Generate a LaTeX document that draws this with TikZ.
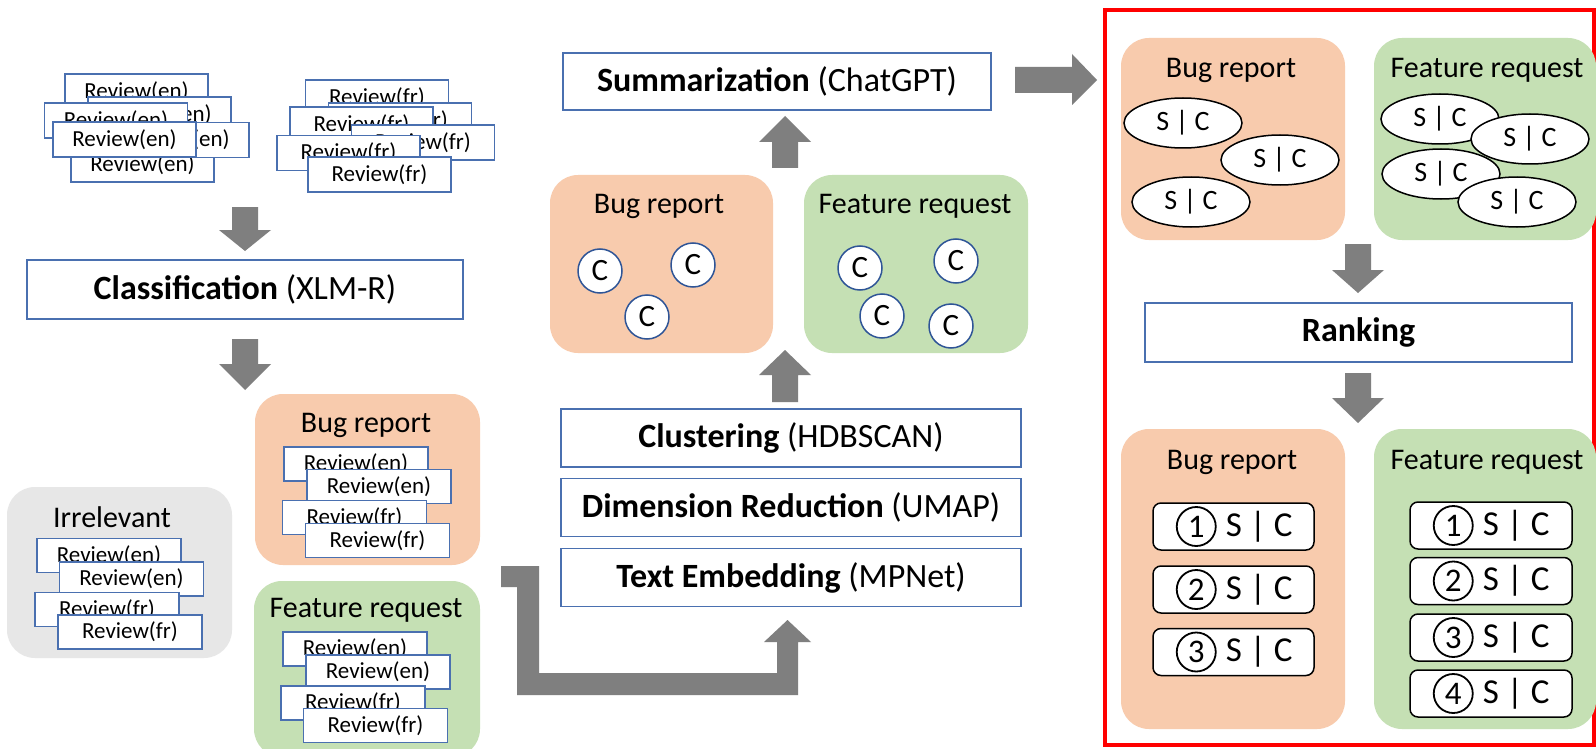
\documentclass[tikz,border=0pt]{standalone}
\usepackage{fontspec}
\setmainfont{Carlito}
\usetikzlibrary{shapes.geometric}
\definecolor{bblue}{HTML}{4A70B0}
\definecolor{cblue}{HTML}{2F5597}
\definecolor{orng}{HTML}{F8CBAD}
\definecolor{grn}{HTML}{C5E0B4}
\definecolor{gry}{HTML}{E7E7E7}
\definecolor{agray}{HTML}{7F7F7F}
\newcommand\myfs[1]{\fontsize{#1}{#1}\selectfont}
% vertical block arrow: x, start y, head base y, tip y
\newcommand\varrow[4]{\fill[agray] (#1-13,#2) -- (#1+13,#2) -- (#1+13,#3) -- (#1+26,#3) -- (#1,#4) -- (#1-26,#3) -- (#1-13,#3) -- cycle;}
\tikzset{
 rev/.style={draw=bblue, fill=white, line width=1.3pt, minimum width=143pt, minimum height=35pt, inner sep=0pt, font=\myfs{23}},
 proc/.style={draw=bblue, fill=white, line width=1.5pt, inner sep=0pt, font=\myfs{34}},
 grp/.style={rounded corners=28pt, inner sep=0pt, draw=none},
 ttl/.style={font=\myfs{30}, inner sep=0pt},
 cl/.style={circle, draw=cblue, fill=white, line width=1.5pt, minimum size=44pt, inner sep=0pt, font=\myfs{31}},
 ell/.style={ellipse, draw=black, fill=white, line width=1.5pt, minimum width=118pt, minimum height=50pt, inner sep=0pt, font=\myfs{28}},
 rk/.style={rounded corners=8pt, draw=black, fill=white, line width=1.5pt, minimum height=47pt, inner sep=0pt},
 num/.style={circle, draw=black, line width=1.8pt, minimum size=39pt, inner sep=0pt, font=\myfs{33}},
 sc/.style={font=\myfs{35}, inner sep=0pt},
}
\begin{document}
\begin{tikzpicture}[x=1pt,y=-1pt]
\path[use as bounding box] (0,0) rectangle (1596,749);
\clip (0,0) rectangle (1596,749);
\fill[white] (0,0) rectangle (1596,749);

% ---------- top-left review stacks
\node[rev] (e1) at (136.5,91.5) {Review(en)};
\node[rev] (e2) at (159.5,114.5) {Review(en)};
\node[rev] (e3) at (116,120.5) {Review(en)};
\node[rev] (e4) at (142.5,164.5) {Review(en)};
\node[rev] (e5) at (177.5,140) {Review(en)};
\node[rev] (e6) at (124.5,139.5) {Review(en)};

\node[rev] (f1) at (377,97.5) {Review(fr)};
\node[rev] (f2) at (400,120.5) {Review(fr)};
\node[rev] (f3) at (361.5,124.5) {Review(fr)};
\node[rev] (f4) at (423,142.5) {Review(fr)};
\node[rev] (f5) at (348.5,153) {Review(fr)};
\node[rev] (f6) at (379.5,174.5) {Review(fr)};

\varrow{245}{207}{230}{251}
\node[proc, minimum width=436pt, minimum height=59pt] (cls) at (245,289.5) {\textbf{Classification} (XLM-R)};
\varrow{245}{339}{364}{390}

% ---------- classified groups
\node[grp, fill=gry, minimum width=225pt, minimum height=171pt] (irr) at (119.5,572.5) {};
\node[ttl] (irrt) at (112,517) {Irrelevant};
\node[rev, minimum width=144pt, minimum height=34pt] (i1) at (109,555.5) {Review(en)};
\node[rev, minimum width=144pt, minimum height=34pt] (i2) at (131.5,579) {Review(en)};
\node[rev, minimum width=144pt, minimum height=34pt] (i3) at (107,609.5) {Review(fr)};
\node[rev, minimum width=144pt, minimum height=34pt] (i4) at (130,632) {Review(fr)};

\node[grp, fill=orng, minimum width=225pt, minimum height=171pt] (bl) at (367.5,479.5) {};
\node[ttl] (blt) at (366,425) {Bug report};
\node[rev, minimum width=144pt, minimum height=34pt] (b1) at (356,464) {Review(en)};
\node[rev, minimum width=144pt, minimum height=34pt] (b2) at (379,486.5) {Review(en)};
\node[rev, minimum width=144pt, minimum height=34pt] (b3) at (354.5,517.5) {Review(fr)};
\node[rev, minimum width=144pt, minimum height=34pt] (b4) at (377.5,540.5) {Review(fr)};

\node[grp, fill=grn, minimum width=226pt, minimum height=176pt] (fl) at (367,669) {};
\node[ttl] (flt) at (366,610) {Feature request};
\node[rev, minimum width=144pt, minimum height=34pt] (g1) at (355,649) {Review(en)};
\node[rev, minimum width=144pt, minimum height=34pt] (g2) at (378,672) {Review(en)};
\node[rev, minimum width=144pt, minimum height=34pt] (g3) at (353,703) {Review(fr)};
\node[rev, minimum width=144pt, minimum height=34pt] (g4) at (375.5,725.5) {Review(fr)};

% ---------- elbow arrow
\fill[agray] (501,566) -- (539,566) -- (539,673) -- (777,673) -- (777,642) -- (764,642) -- (787.5,620) -- (811,642) -- (798,642) -- (798,695) -- (517,695) -- (517,587) -- (501,587) -- cycle;

% ---------- middle pipeline
\node[proc, minimum width=460pt, minimum height=58pt] (emb) at (791,577.5) {\textbf{Text Embedding} (MPNet)};
\node[proc, minimum width=460pt, minimum height=58pt] (dim) at (791,507.5) {\textbf{Dimension Reduction} (UMAP)};
\node[proc, minimum width=460pt, minimum height=58pt] (clu) at (791,438) {\textbf{Clustering} (HDBSCAN)};
\varrow{785}{402}{375}{350}

\node[grp, fill=orng, minimum width=223pt, minimum height=178pt] (bm) at (661.5,264) {};
\node[ttl] (bmt) at (659,206) {Bug report};
\node[cl] (c1) at (600,271) {C};
\node[cl] (c2) at (693,265) {C};
\node[cl] (c3) at (647,317) {C};

\node[grp, fill=grn, minimum width=224pt, minimum height=178pt] (fm) at (916,264) {};
\node[ttl] (fmt) at (915,206) {Feature request};
\node[cl] (c4) at (860,268) {C};
\node[cl] (c5) at (956,261) {C};
\node[cl] (c6) at (882,316) {C};
\node[cl] (c7) at (951,326) {C};

\varrow{785}{168}{142}{116}
\node[proc, minimum width=428pt, minimum height=57pt] (sum) at (777,81.5) {\textbf{Summarization} (ChatGPT)};

\fill[agray] (1015,67) -- (1072,67) -- (1072,54) -- (1097,80) -- (1072,105) -- (1072,93) -- (1015,93) -- cycle;

% ---------- right panel
\draw[red, line width=4pt] (1105,10) rectangle (1594,745);

\node[grp, fill=orng, minimum width=224pt, minimum height=202pt] (tb) at (1233,139) {};
\node[ttl] (tbt) at (1231,70) {Bug report};
\node[ell] (s1) at (1183,123) {S | C};
\node[ell] (s2) at (1280,160) {S | C};
\node[ell] (s3) at (1191,202) {S | C};

\node[grp, fill=grn, minimum width=222pt, minimum height=202pt] (tf) at (1485,139) {};
\node[ttl] (tft) at (1487,70) {Feature request};
\node[ell] (t1) at (1440,119) {S | C};
\node[ell] (t2) at (1530,139) {S | C};
\node[ell] (t3) at (1441,174) {S | C};
\node[ell] (t4) at (1517,202) {S | C};

\varrow{1358}{244}{270}{293}
\node[proc, minimum width=427pt, minimum height=59pt] (rank) at (1358.5,332.5) {\textbf{Ranking}};
\varrow{1358}{373}{398}{423}

\node[grp, fill=orng, minimum width=224pt, minimum height=300pt] (rb) at (1233,579) {};
\node[ttl] (rbt) at (1232,462) {Bug report};
\node[rk, minimum width=161pt] (rb1) at (1233.5,526.5) {};
\node[num] (nb1) at ([xshift=44pt]rb1.west) {1};
\node[sc] (sb1) at ([xshift=107pt]rb1.west) {S | C};
\node[rk, minimum width=161pt] (rb2) at (1233.5,589.5) {};
\node[num] (nb2) at ([xshift=44pt]rb2.west) {2};
\node[sc] (sb2) at ([xshift=107pt]rb2.west) {S | C};
\node[rk, minimum width=161pt] (rb3) at (1233.5,652) {};
\node[num] (nb3) at ([xshift=44pt]rb3.west) {3};
\node[sc] (sb3) at ([xshift=107pt]rb3.west) {S | C};

\node[grp, fill=grn, minimum width=222pt, minimum height=300pt] (rf) at (1485,579) {};
\node[ttl] (rft) at (1487,462) {Feature request};
\node[rk, minimum width=162pt] (rf1) at (1491,525.5) {};
\node[num] (nf1) at ([xshift=44pt]rf1.west) {1};
\node[sc] (sf1) at ([xshift=107pt]rf1.west) {S | C};
\node[rk, minimum width=162pt] (rf2) at (1491,581) {};
\node[num] (nf2) at ([xshift=44pt]rf2.west) {2};
\node[sc] (sf2) at ([xshift=107pt]rf2.west) {S | C};
\node[rk, minimum width=162pt] (rf3) at (1491,637.5) {};
\node[num] (nf3) at ([xshift=44pt]rf3.west) {3};
\node[sc] (sf3) at ([xshift=107pt]rf3.west) {S | C};
\node[rk, minimum width=162pt] (rf4) at (1491,693.5) {};
\node[num] (nf4) at ([xshift=44pt]rf4.west) {4};
\node[sc] (sf4) at ([xshift=107pt]rf4.west) {S | C};
\end{tikzpicture}
\end{document}
